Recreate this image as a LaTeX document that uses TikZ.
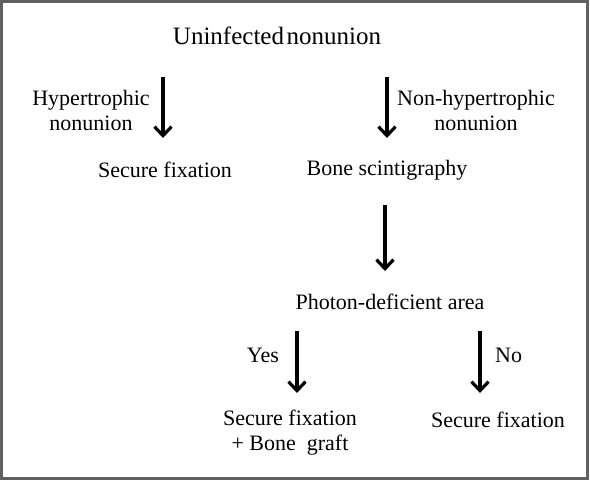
\documentclass[tikz,border=0pt]{standalone}
\usepackage{fontspec}
\setmainfont{Liberation Serif}
\usetikzlibrary{arrows.meta}
\begin{document}
\begin{tikzpicture}[x=1pt,y=-1pt,
 lbl/.style={inner sep=0pt,align=center,font=\fontsize{22}{25}\selectfont},
 arr/.style={line width=3.2pt,-{Straight Barb[length=9pt,width=17pt,line width=3.2pt]}}]
 \useasboundingbox (0,0) rectangle (590,480);
 \draw[gray!75!black,line width=3pt] (1.5,1.5) rectangle (587,478);
 % texts
 \node[lbl,font=\fontsize{25}{28}\selectfont] (root) at (277,36) {Uninfected\hspace{0.1em}nonunion};
 \node[lbl] (hyp) at (91,110) {Hypertrophic\\nonunion};
 \node[lbl] (nonhyp) at (476,110) {Non-hypertrophic\\nonunion};
 \node[lbl] (fix1) at (165,170) {Secure fixation};
 \node[lbl] (scint) at (387,170) {Bone scintigraphy};
 \node[lbl] (photon) at (390,302) {Photon-deficient area};
 \node[lbl] (yes) at (263,355) {Yes};
 \node[lbl,anchor=west] (no) at (495,355) {No};
 \node[lbl] (graft) at (290,433) {Secure fixation\\+ Bone\ \ graft};
 \node[lbl] (fix2) at (498,420) {Secure fixation};
 % arrow ends
 \coordinate (a1) at (163,77);  \coordinate (b1) at (163,138);
 \coordinate (a2) at (387,77);  \coordinate (b2) at (387,138);
 \coordinate (a3) at (385,205); \coordinate (b3) at (385,271);
 \coordinate (a4) at (297,331); \coordinate (b4) at (297,393);
 \coordinate (a5) at (480,331); \coordinate (b5) at (480,393);
 \draw[arr] (a1) -- (b1);
 \draw[arr] (a2) -- (b2);
 \draw[arr] (a3) -- (b3);
 \draw[arr] (a4) -- (b4);
 \draw[arr] (a5) -- (b5);
\end{tikzpicture}
\end{document}
